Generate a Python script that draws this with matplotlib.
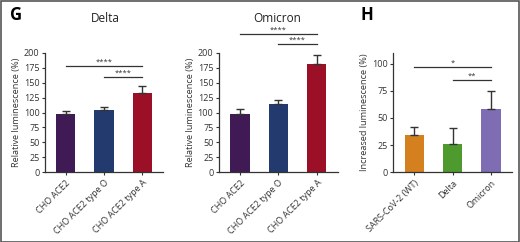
import matplotlib
matplotlib.use('Agg')
import matplotlib.pyplot as plt
from matplotlib.patches import Rectangle

# datos
celdas = ['CHO ACE2', 'CHO ACE2 type O', 'CHO ACE2 type A']
delta_val = [98, 104, 132]
delta_err = [5, 6, 12]
omicron_val = [98, 114, 182]
omicron_err = [8, 7, 15]
colores_g = ['#3f1a55', '#233a6e', '#9b1027']

variantes = ['SARS-CoV-2 (WT)', 'Delta', 'Omicron']
aumento_val = [34, 26, 58]
aumento_err = [8, 15, 17]
colores_h = ['#d4801e', '#4f9a2e', '#7e6db3']

plt.rcParams['font.family'] = ['Open Sans', 'DejaVu Sans']
gris = '#333333'

fig = plt.figure(figsize=(5.2, 2.42), dpi=100)
fig.patches.append(Rectangle((0.001, 0.002), 0.997, 0.995, transform=fig.transFigure,
                             fill=False, edgecolor='#555555', linewidth=1.2))


def panel(pos, nombres, valores, errores, colores, ymax, paso, ylabel, barras_sig):
    ax = fig.add_axes(pos)
    x = range(len(valores))
    ax.bar(x, valores, width=0.5, color=colores)
    ax.errorbar(x, valores, yerr=[[0] * len(errores), errores], fmt='none',
                ecolor=gris, elinewidth=1, capsize=3, capthick=1)
    ax.set_xlim(-0.55, 2.55)
    ax.set_ylim(0, ymax)
    ax.set_yticks(range(0, ymax + 1 if ymax % paso == 0 else ymax, paso))
    ax.set_xticks(list(x))
    ax.set_xticklabels(nombres, rotation=45, ha='right', rotation_mode='anchor', fontsize=6.5)
    ax.tick_params(axis='y', labelsize=6.5, length=2.5, width=0.8, pad=1.5, colors=gris)
    ax.tick_params(axis='x', length=2.5, width=0.8, pad=2, colors=gris)
    ax.spines['top'].set_visible(False)
    ax.spines['right'].set_visible(False)
    for s in ['left', 'bottom']:
        ax.spines[s].set_color(gris)
        ax.spines[s].set_linewidth(0.9)
    ax.set_ylabel(ylabel, fontsize=6.6, labelpad=2, color=gris)
    for x0, x1, y, txt in barras_sig:
        ax.plot([x0, x1], [y, y], color=gris, linewidth=0.9, clip_on=False)
        ax.text((x0 + x1) / 2, y, txt, ha='center', va='bottom', fontsize=5.5, color=gris)
    return ax


panel([0.0865, 0.289, 0.227, 0.492], celdas, delta_val, delta_err, colores_g, 200, 25,
      'Relative luminescence (%)', [(0, 2, 178, '****'), (1, 2, 160, '****')])
panel([0.421, 0.289, 0.229, 0.492], celdas, omicron_val, omicron_err, colores_g, 200, 25,
      'Relative luminescence (%)', [(0, 2, 232, '****'), (1, 2, 215, '****')])
panel([0.756, 0.289, 0.229, 0.492], variantes, aumento_val, aumento_err, colores_h, 110, 25,
      'Increased luminescence (%)', [(0, 2, 97, '*'), (1, 2, 85, '**')])

fig.text(105 / 520, 1 - 18 / 242, 'Delta', ha='center', va='center', fontsize=8.5, color='#222222')
fig.text(277 / 520, 1 - 18 / 242, 'Omicron', ha='center', va='center', fontsize=8.5, color='#222222')
fig.text(10 / 520, 1 - 15 / 242, 'G', ha='left', va='center', fontsize=12, fontweight='bold')
fig.text(360 / 520, 1 - 15 / 242, 'H', ha='left', va='center', fontsize=12, fontweight='bold')

fig.savefig('out.png', dpi=100)
